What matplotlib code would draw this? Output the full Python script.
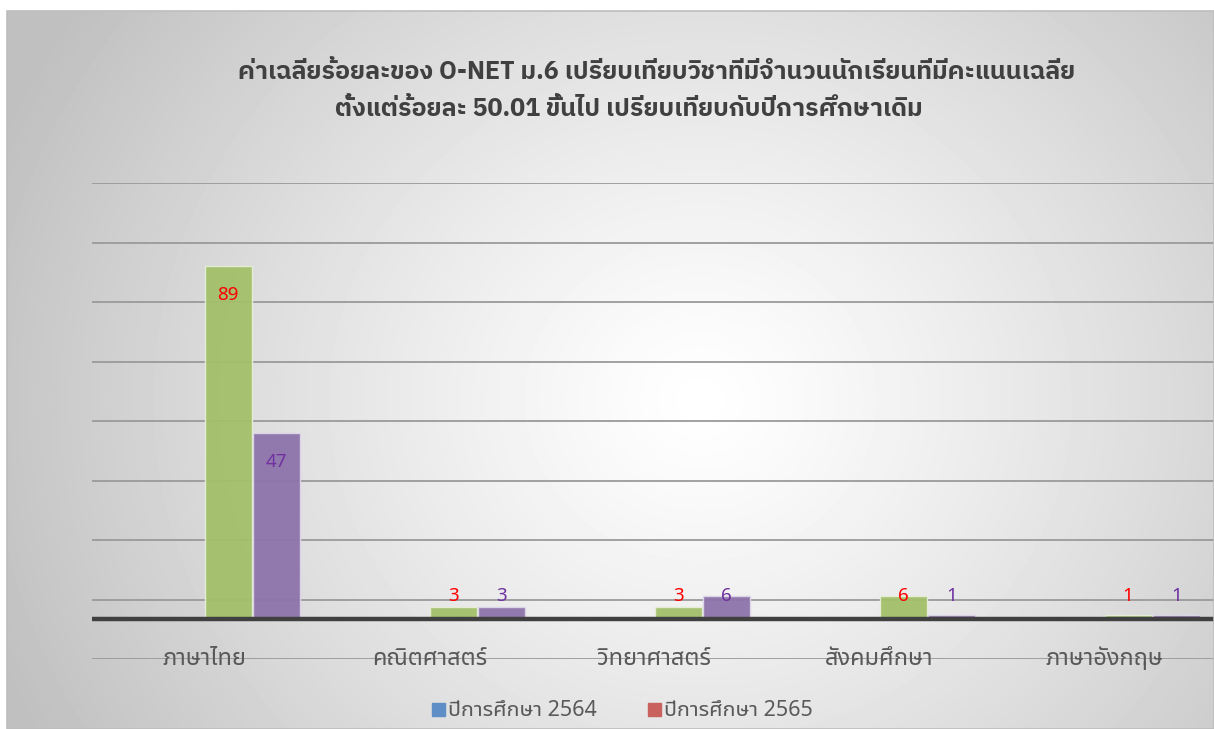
import numpy as np
import matplotlib
matplotlib.use("Agg")
import matplotlib.pyplot as plt
from matplotlib.patches import Rectangle

plt.rcParams['font.family'] = ['Noto Sans Thai UI', 'Noto Sans', 'DejaVu Sans']

# data
subjects = ['ภาษาไทย', 'คณิตศาสตร์', 'วิทยาศาสตร์', 'สังคมศึกษา', 'ภาษาอังกฤษ']
y2564 = [89, 3, 3, 6, 1]
y2565 = [47, 3, 6, 1, 1]
series_names = ['ปีการศึกษา 2564', 'ปีการศึกษา 2565']
title_lines = ['ค่าเฉลี่ยร้อยละของ O-NET ม.6 เปรียบเทียบวิชาที่มีจำนวนนักเรียนที่มีคะแนนเฉลี่ย',
               'ตั้งแต่ร้อยละ 50.01 ขึ้นไป เปรียบเทียบกับปีการศึกษาเดิม']

W, H = 1214, 729
fig = plt.figure(figsize=(W / 100, H / 100), dpi=100)

# chart frame with radial grey gradient
fx0, fy0 = 7, 11
bg = fig.add_axes([fx0 / W, 0, 1 - fx0 / W, (H - fy0) / H])
xx, yy = np.meshgrid(np.arange(fx0, W), np.arange(fy0, H))
d = np.hypot((xx - 700) * 1.05, (yy - 400) * 1.15)
v = 1 - 0.25 * np.clip(d / 800, 0, 1) ** 1.2
bg.imshow(v, cmap='gray', vmin=0, vmax=1, aspect='auto', interpolation='bilinear')
bg.axis('off')
fig.patches.append(Rectangle((fx0 / W, 0), 1 - fx0 / W, (H - fy0) / H,
                             transform=fig.transFigure, fill=False,
                             edgecolor='#bdbdbd', lw=1.2))

# plot area
px0, pw = 92, 1125
py_top, py_bot = 183, 659
ax = fig.add_axes([px0 / W, (H - py_bot) / H, pw / W, (py_bot - py_top) / H])
ax.patch.set_alpha(0)
ax.set_xlim(-0.5, len(subjects) - 0.5)
ax.set_ylim(-10, 110)
for s in ax.spines.values():
    s.set_visible(False)
ax.set_yticks(np.arange(-10, 111, 15))
ax.set_yticklabels([])
ax.tick_params(axis='y', length=0)
ax.yaxis.grid(True, color='#9a9a9a', lw=1.3)
ax.set_axisbelow(True)
ax.axhline(0, color='#404040', lw=3.2, zorder=4)

x = np.arange(len(subjects))
bw = 0.21
ax.bar(x, y2564, width=bw, align='edge', color='#a3c06a', alpha=0.95,
       edgecolor='#e6eed8', lw=1, zorder=3)
ax.bar(x + bw + 0.004, y2565, width=bw, align='edge', color='#8d74ab', alpha=0.95,
       edgecolor='#ddd5e8', lw=1, zorder=3)

for xi, vals, col, off in [(x, y2564, '#ff0000', 0), (x, y2565, '#7030a0', bw + 0.004)]:
    for i, val in enumerate(vals):
        ly = val - 7.3 if val > 20 else 6
        ax.text(xi[i] + off + bw / 2, ly, str(val), color=col, fontsize=13.5,
                ha='center', va='center', zorder=5)

ax.set_xticks(x)
ax.set_xticklabels([])
ax.tick_params(axis='x', length=0)
for i, s in enumerate(subjects):
    ax.text(i, -10, s, ha='center', va='center', fontsize=17, color='#595959', zorder=5)

# title, two lines as in the original
tfam = ['IBM Plex Sans Thai', 'Noto Sans Thai UI', 'DejaVu Sans']
for tx, ty, line in zip([657, 629], [72, 109], title_lines):
    fig.text(tx / W, 1 - ty / H, line, ha='center', va='center', fontsize=18,
             fontweight='bold', color='#404040', family=tfam)

# legend (colours as in the original chart)
leg_cols = ['#5f8dc6', '#c9625e']
leg_x = [432, 648]
for lx, lc, name in zip(leg_x, leg_cols, series_names):
    fig.patches.append(Rectangle((lx / W, 1 - 716 / H), 13 / W, 13 / H,
                                 transform=fig.transFigure, color=lc))
    fig.text((lx + 16) / W, 1 - 710 / H, name, ha='left', va='center',
             fontsize=15.5, color='#595959')

fig.savefig('out.png', dpi=100)
